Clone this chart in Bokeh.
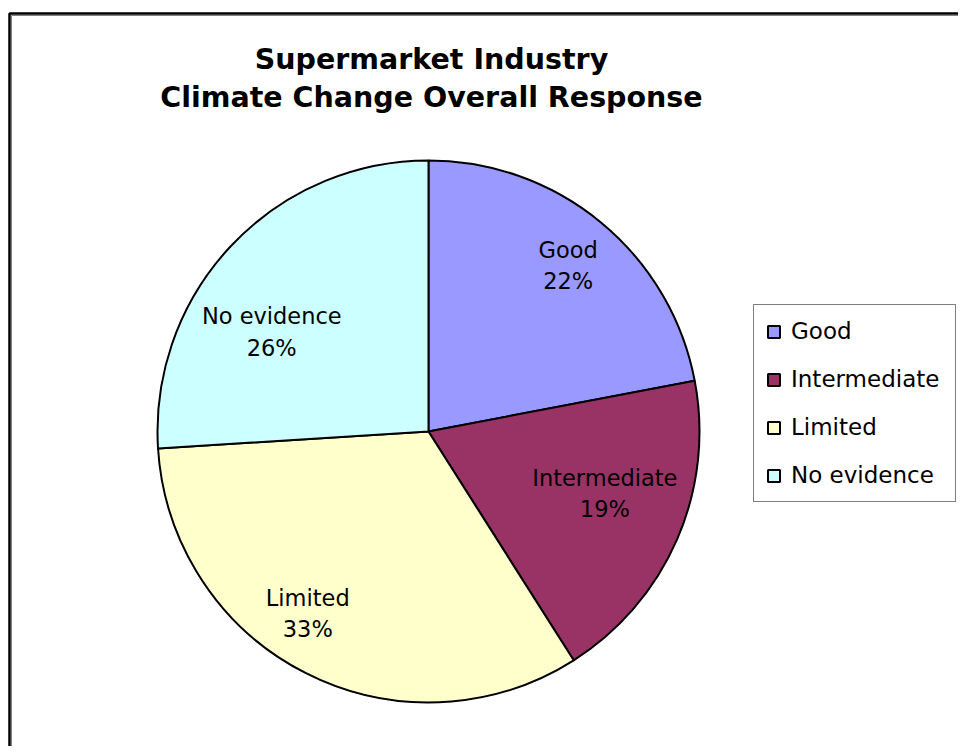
import numpy as np
from bokeh.plotting import figure
from bokeh.models import ColumnDataSource, Range1d, Label, BoxAnnotation
from bokeh.core.properties import value
from bokeh.embed import file_html
from bokeh.resources import INLINE

# ---- data ----
categories = ["Good", "Intermediate", "Limited", "No evidence"]
shares = [22, 19, 33, 26]
colors = ["#9999FF", "#993366", "#FFFFCC", "#CCFFFF"]
title_lines = ["Supermarket Industry", "Climate Change Overall Response"]

# ---- layout ----
W, H = 958, 746
cx, cy = 428, H - 431        # data y = H - screen y
R = 271
label_r_frac = [0.80, 0.69, 0.805, 0.685]
label_ang_shift_deg = [-0.5, 4.0, -6.6, 10.8]
FONT = "DejaVu Sans"

frac = np.array(shares, dtype=float) / sum(shares)
cum_end = np.cumsum(frac)
cum_start = cum_end - frac
start_ang = np.pi / 2 - 2 * np.pi * cum_end
end_ang = np.pi / 2 - 2 * np.pi * cum_start
mid_ang = np.pi / 2 - 2 * np.pi * (cum_start + frac / 2) + np.radians(label_ang_shift_deg)

lx = cx + np.array(label_r_frac) * R * np.cos(mid_ang)
ly = cy + np.array(label_r_frac) * R * np.sin(mid_ang)
texts = [f"{c}\n{s}%" for c, s in zip(categories, shares)]

src = ColumnDataSource(dict(category=categories, color=colors,
                            start=start_ang, end=end_ang))
lsrc = ColumnDataSource(dict(x=lx, y=ly, text=texts))

p = figure(width=W, height=H, output_backend="svg", toolbar_location=None,
           x_range=Range1d(0, W), y_range=Range1d(0, H),
           x_axis_location=None, y_axis_location=None, min_border=0,
           background_fill_color="white", border_fill_color="white")
p.grid.visible = False
p.outline_line_color = None

# chart border (top/left visible, continues past the window)
p.add_layout(BoxAnnotation(left=9, right=5000, top=H - 13, bottom=-5000,
                           fill_alpha=0, line_color="black", line_alpha=1.0,
                           line_width=2.5))
p.add_layout(BoxAnnotation(left=11, right=5000, top=H - 15, bottom=-5000,
                           fill_alpha=0, line_color="#808080", line_alpha=1.0,
                           line_width=1))

p.wedge(x=cx, y=cy, radius=R, start_angle="start", end_angle="end",
        fill_color="color", line_color="black", line_width=2,
        legend_field="category", source=src)

p.text(x="x", y="y", text="text", source=lsrc, text_align="center",
       text_baseline="middle", text_font=value(FONT), text_font_size="22.5px",
       text_line_height=1.2, text_color="black")

p.add_layout(Label(x=431, y=H - 78, text="\n".join(title_lines),
                   text_align="center", text_baseline="middle",
                   text_font=FONT, text_font_size="28.5px", text_font_style="bold",
                   text_line_height=1.18, text_color="black"))

lg = p.legend[0]
lg.location = (753, H - 502)
lg.padding = 12
lg.spacing = 20
lg.margin = 0
lg.glyph_width = 15
lg.glyph_height = 15
lg.label_standoff = 10
lg.label_width = 152
lg.label_height = 28
lg.label_text_font = FONT
lg.label_text_font_size = "23px"
lg.label_text_color = "black"
lg.border_line_color = "black"
lg.border_line_width = 1.2
lg.background_fill_color = "white"
lg.background_fill_alpha = 1.0

open("out.html", "w").write(file_html(p, INLINE))
